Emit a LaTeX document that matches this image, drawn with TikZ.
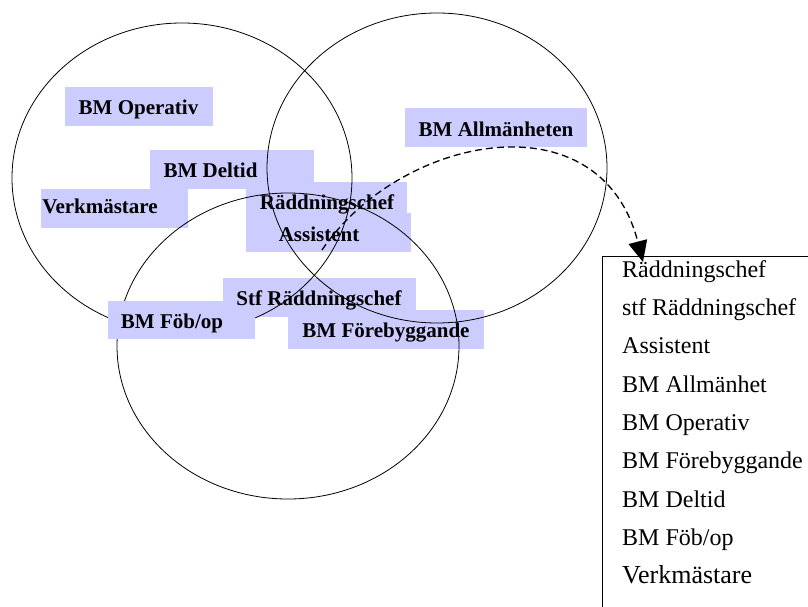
\documentclass[tikz,border=0pt]{standalone}
\usepackage{fontspec}
\setmainfont{Liberation Serif}
\usetikzlibrary{arrows.meta}
\definecolor{boxfill}{RGB}{204,204,255}
\tikzset{
  lbl/.style={anchor=base,inner sep=0pt,font=\fontsize{21}{24}\selectfont\bfseries},
  item/.style={anchor=base west,inner sep=0pt,font=\fontsize{24}{28}\selectfont},
  ring/.style={draw=black,line width=0.8pt},
  link/.style={line width=1.3pt,dash pattern=on 7pt off 4pt,-{Triangle[length=21pt,width=19pt]}}
}
\begin{document}
\begin{tikzpicture}[x=1pt,y=-1pt]
\useasboundingbox (0,0) rectangle (808,607);
\begin{scope}
\clip (0,0) rectangle (808,607);
% label boxes (below the rings)
\fill[boxfill] (65,87) rectangle (213,126);
\fill[boxfill] (150,150) rectangle (314,189);
\fill[boxfill] (41,189) rectangle (188,228);
\fill[boxfill] (246,182) rectangle (407,213);
\fill[boxfill] (246,213) rectangle (411,252);
\fill[boxfill] (405,108) rectangle (587,147);
\fill[boxfill] (223,278) rectangle (416,317);
\fill[boxfill] (288,310) rectangle (484,349);
% rings
\draw[ring] (182,178) ellipse [x radius=170, y radius=155];
\draw[ring] (437,168) ellipse [x radius=170, y radius=155];
\draw[ring] (288,346) ellipse [x radius=171, y radius=153];
% box above the rings
\fill[boxfill] (108,301) rectangle (255,339);
% list frame
\draw[line width=0.8pt] (602,640) -- (602,256) -- (830,256);
% connector
\coordinate (src) at (322,250);
\coordinate (dst) at (643,262);
\draw[link] (src) .. controls (400,135) and (600,95) .. (dst);
\end{scope}
% labels
\node[lbl] (op)  at (138.5,114) {BM Operativ};
\node[lbl] (del) at (210.5,177) {BM Deltid};
\node[lbl] (vm)  at (100,213) {Verkmästare};
\node[lbl] (rc)  at (327,209) {Räddningschef};
\node[lbl] (as)  at (319,241) {Assistent};
\node[lbl] (al)  at (496,136) {BM Allmänheten};
\node[lbl] (st)  at (319,305) {Stf Räddningschef};
\node[lbl] (fo)  at (172,328) {BM Föb/op};
\node[lbl] (fb)  at (386,337) {BM Förebyggande};
% list
\node[item] (l1) at (622,277) {Räddningschef};
\node[item] (l2) at (622,315) {stf Räddningschef};
\node[item] (l3) at (622,353) {Assistent};
\node[item] (l4) at (622,392) {BM Allmänhet};
\node[item] (l5) at (622,430) {BM Operativ};
\node[item] (l6) at (622,468) {BM Förebyggande};
\node[item] (l7) at (622,507) {BM Deltid};
\node[item] (l8) at (622,545) {BM Föb/op};
\node[item,font=\fontsize{26}{30}\selectfont] (l9) at (622,583) {Verkmästare};
\end{tikzpicture}
\end{document}
